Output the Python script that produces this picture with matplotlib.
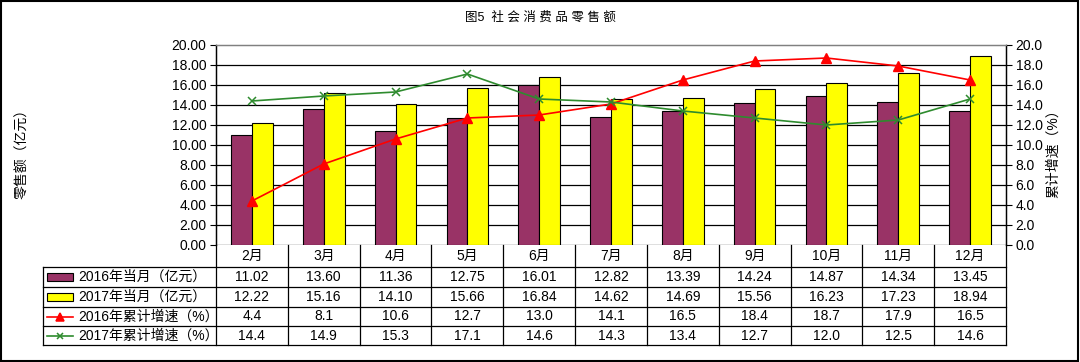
import numpy as np
import matplotlib.pyplot as plt
import matplotlib.transforms as mtransforms
from matplotlib.patches import Rectangle
from matplotlib.lines import Line2D

plt.rcParams['font.family'] = ['Liberation Sans', 'Noto Sans CJK SC', 'DejaVu Sans']

# ── datos ────────────────────────────────────────────────────────────────────
meses = ['2月', '3月', '4月', '5月', '6月', '7月', '8月', '9月', '10月', '11月', '12月']
ventas_2016 = [11.02, 13.60, 11.36, 12.75, 16.01, 12.82, 13.39, 14.24, 14.87, 14.34, 13.45]
ventas_2017 = [12.22, 15.16, 14.10, 15.66, 16.84, 14.62, 14.69, 15.56, 16.23, 17.23, 18.94]
crec_2016 = [4.4, 8.1, 10.6, 12.7, 13.0, 14.1, 16.5, 18.4, 18.7, 17.9, 16.5]
crec_2017 = [14.4, 14.9, 15.3, 17.1, 14.6, 14.3, 13.4, 12.7, 12.0, 12.5, 14.6]

nombres = ['2016年当月（亿元）', '2017年当月（亿元）', '2016年累计增速（%）', '2017年累计增速（%）']

C_MORADO = '#993366'
C_AMARILLO = '#FFFF00'
C_ROJO = '#FF0000'
C_VERDE = '#2E8B2E'

W, H = 1080, 362
fig = plt.figure(figsize=(W / 100, H / 100), dpi=100)

def fy(py):
    return 1 - py / H

def fx(px):
    return px / W

ax = fig.add_axes([fx(216), fy(245), fx(1006) - fx(216), fy(45) - fy(245)])
ax2 = ax.twinx()

x = np.arange(len(meses))
ancho = 0.29
ax.bar(x - ancho / 2, ventas_2016, ancho, color=C_MORADO, edgecolor='black', lw=0.8, zorder=3)
ax.bar(x + ancho / 2, ventas_2017, ancho, color=C_AMARILLO, edgecolor='black', lw=0.8, zorder=3)

ax2.plot(x, crec_2016, color=C_ROJO, lw=1.2, marker='^', ms=6.5, zorder=4)
ax2.plot(x, crec_2017, color=C_VERDE, lw=1.2, marker='x', ms=5.5, mew=1.1, zorder=4)

ax.set_xlim(-0.5, len(meses) - 0.5)
ax.set_ylim(0, 20)
ax2.set_ylim(0, 20)
ticks = np.arange(0, 20.1, 2)
ax.set_yticks(ticks)
ax.set_yticklabels([f'{v:.2f}' for v in ticks])
ax2.set_yticks(ticks)
ax2.set_yticklabels([f'{v:.1f}' for v in ticks])
ax.set_xticks([])

for a in (ax, ax2):
    a.tick_params(axis='y', labelsize=10, direction='out', length=4, width=0.8, pad=3)
    for s in a.spines.values():
        s.set_linewidth(0.9)
    a.spines['top'].set_color('#808080')
    a.spines['bottom'].set_visible(False)

for v in np.arange(0, 19, 2):
    ax.axhline(v, color='black', lw=0.9, zorder=1)

ax.set_zorder(ax2.get_zorder() - 1)
ax2.patch.set_visible(False)

# ── títulos y etiquetas ─────────────────────────────────────────────────────
fig.text(0.5, fy(18), '图5  社 会 消 费 品 零 售 额', ha='center', va='center', fontsize=9)
fig.text(fx(22), fy(150), '零售额（亿元）', rotation=90, ha='center', va='center', fontsize=10)
fig.text(fx(1053), fy(150), '累计增速（%）', rotation=90, ha='center', va='center', fontsize=10)

# ── tabla de datos ──────────────────────────────────────────────────────────
tr = mtransforms.blended_transform_factory(ax.transData, fig.transFigure)
filas_y = [245, 267, 287, 307, 326, 345]
lw_t = 0.9

for i in range(len(meses) + 1):
    fig.add_artist(Line2D([i - 0.5, i - 0.5], [fy(245), fy(345)], transform=tr,
                          color='black', lw=lw_t))
for py in filas_y[1:]:
    fig.add_artist(Line2D([fx(43), fx(1006)], [fy(py), fy(py)], transform=fig.transFigure,
                          color='black', lw=lw_t))
fig.add_artist(Line2D([fx(43), fx(43)], [fy(267), fy(345)], transform=fig.transFigure,
                      color='black', lw=lw_t))

for i, m in enumerate(meses):
    fig.text(i, fy((245 + 267) / 2), m, transform=tr, ha='center', va='center', fontsize=10)

series = [ventas_2016, ventas_2017, crec_2016, crec_2017]
formatos = ['{:.2f}', '{:.2f}', '{:.1f}', '{:.1f}']
for r, (vals, fmt, nombre) in enumerate(zip(series, formatos, nombres)):
    yc = fy((filas_y[r + 1] + filas_y[r + 2]) / 2)
    for i, v in enumerate(vals):
        fig.text(i, yc, fmt.format(v), transform=tr, ha='center', va='center', fontsize=10)
    fig.text(fx(78), yc, nombre, ha='left', va='center', fontsize=10)

for r, color in enumerate([C_MORADO, C_AMARILLO]):
    yc = (filas_y[r + 1] + filas_y[r + 2]) / 2
    fig.add_artist(Rectangle((fx(47), fy(yc + 4)), fx(26), fy(yc - 4) - fy(yc + 4),
                             transform=fig.transFigure, facecolor=color,
                             edgecolor='black', lw=0.8))
for r, (color, mk, ms) in enumerate([(C_ROJO, '^', 6), (C_VERDE, 'x', 5)]):
    yc = fy((filas_y[r + 3] + filas_y[r + 4]) / 2)
    fig.add_artist(Line2D([fx(47), fx(73)], [yc, yc], transform=fig.transFigure,
                          color=color, lw=1.2))
    fig.add_artist(Line2D([fx(60)], [yc], transform=fig.transFigure, color=color,
                          marker=mk, ms=ms, mew=1.1, lw=0))

# marco exterior
fig.add_artist(Rectangle((0.001, 0.003), 0.997, 0.995, transform=fig.transFigure,
                         fill=False, edgecolor='black', lw=1.5))

plt.savefig('out.png', dpi=100)
